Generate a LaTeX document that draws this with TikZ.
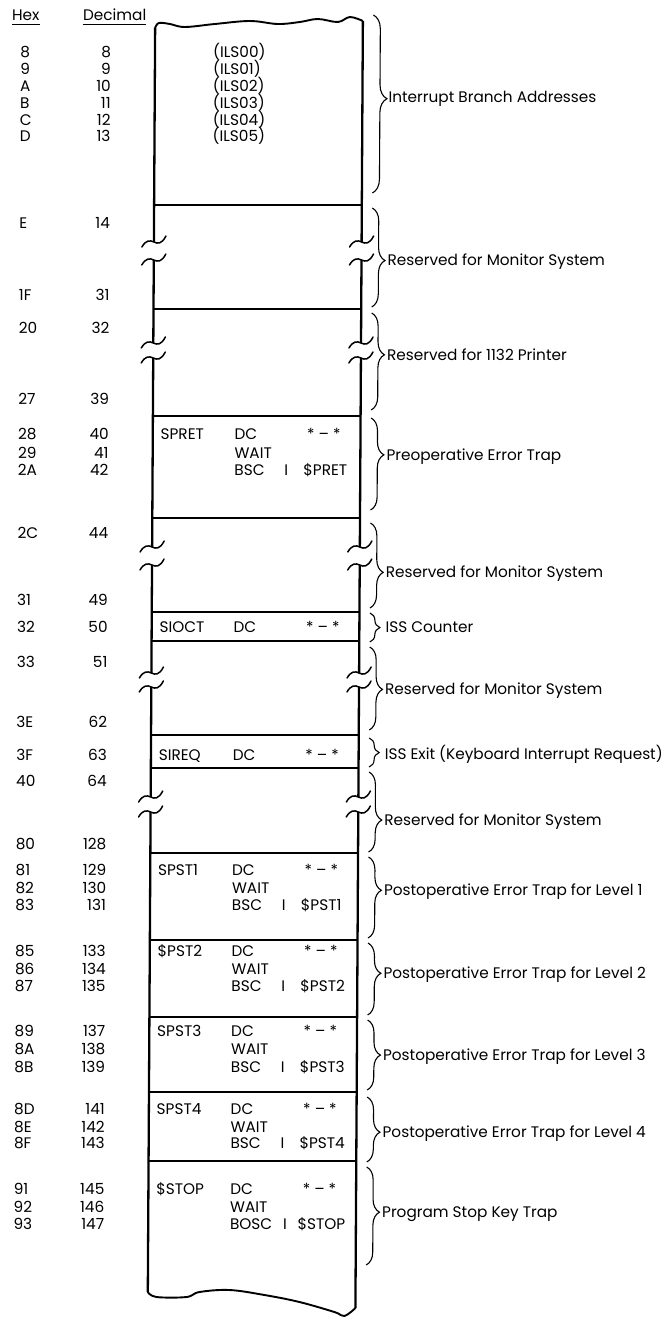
\documentclass[tikz,border=0pt]{standalone}
\usepackage{fontspec}
\setmainfont{Poppins}
\usetikzlibrary{decorations.pathreplacing}
\newcommand\fs{\fontsize{15.3}{17}\selectfont}
\newcommand\mrow[3]{\node[txt] (h#2) at ({20.5},{#1+5}) {#2};\node[rtxt] (d#3) at ({111.5},{#1+5}) {#3};}
\newcommand\ctext[4]{\node[txt] (#1) at ({#2},{#3+5}) {#4};}
\newcommand\brlab[7]{\draw[brc=#4,decoration={aspect=#3}] (373.5,#1) -- (373.5,#2);\node[txt] (#7) at ({389},{#5+5}) {#6};}
\newcommand\tld[2]{\draw[tl] ({#1-12},{#2+5}) .. controls ({#1-8},{#2-2}) and ({#1-4},{#2-2}) .. ({#1},{#2}) .. controls ({#1+4},{#2+2}) and ({#1+8},{#2+2}) .. ({#1+12},{#2-6});}
\begin{document}
\begin{tikzpicture}[x=1pt,y=-1pt,
  txt/.style={inner sep=0pt,anchor=base west,font=\fs},
  rtxt/.style={inner sep=0pt,anchor=base east,font=\fs},
  vline/.style={line width=2.3pt},
  hline/.style={line width=1.9pt,line join=round},
  brc/.style={decorate,decoration={brace,amplitude=#1},line width=1.1pt},
  tl/.style={line width=1.5pt,line cap=round},
  uline/.style={line width=0.9pt}]
\fill[white] (0,0) rectangle (668,1319);
\useasboundingbox (0,0) rectangle (668,1319);
\begin{scope}[xslant=0.0058]
% headers
\node[txt] (hexhead) at (12,21) {Hex};
\node[txt] (dechead) at (83,21) {Decimal};
\draw[uline] ([yshift=-3.5pt]hexhead.base west) -- ([yshift=-3.5pt]hexhead.base east);
\draw[uline] ([yshift=-3.5pt]dechead.base west) -- ([yshift=-3.5pt]dechead.base east);
% address rows
\mrow{53}{8}{8}\mrow{70}{9}{9}\mrow{87}{A}{10}\mrow{104}{B}{11}\mrow{121}{C}{12}\mrow{137}{D}{13}
\mrow{223}{E}{14}\mrow{295}{1F}{31}\mrow{328}{20}{32}\mrow{399}{27}{39}
\mrow{434}{28}{40}\mrow{453}{29}{41}\mrow{470}{2A}{42}
\mrow{533}{2C}{44}\mrow{600}{31}{49}\mrow{627}{32}{50}\mrow{662}{33}{51}
\mrow{722}{3E}{62}\mrow{755}{3F}{63}\mrow{781}{40}{64}\mrow{844}{80}{128}
\mrow{870}{81}{129}\mrow{888}{82}{130}\mrow{905}{83}{131}
\mrow{951}{85}{133}\mrow{969}{86}{134}\mrow{986}{87}{135}
\mrow{1031}{89}{137}\mrow{1049}{8A}{138}\mrow{1067}{8B}{139}
\mrow{1109}{8D}{141}\mrow{1127}{8E}{142}\mrow{1143}{8F}{143}
\mrow{1189}{91}{145}\mrow{1207}{92}{146}\mrow{1224}{93}{147}
% box outline
\draw[hline] plot[smooth,tension=0.6] coordinates {(155.3,28) (159,23) (170,24) (185,27) (215,24) (250,21) (278,24) (300,22) (318,19) (338,22) (350,17) (363,21)};
\draw[hline] plot[smooth,tension=0.6] coordinates {(155.3,1292) (164,1297) (194,1297) (207,1292) (237,1290) (272,1295) (307,1302) (342,1312) (352,1316) (363,1308)};
\foreach \xx/\ya/\yb in {155.3/28/1292, 363/21/1308}{
  \draw[vline] (\xx,\ya) -- (\xx,242);
  \draw[vline] (\xx,260) -- (\xx,343);
  \draw[vline] (\xx,358) -- (\xx,547);
  \draw[vline] (\xx,565) -- (\xx,673);
  \draw[vline] (\xx,687) -- (\xx,797);
  \draw[vline] (\xx,812) -- (\xx,\yb);
}
\foreach \yy in {242,260,343,358,547,565,673,687,797,812}{\tld{155.3}{\yy}\tld{363}{\yy}}
\foreach \yy in {205,309,416,518,612,641,735,768,853,940,1017,1092,1161}{\draw[hline] (155.3,\yy) -- (363,\yy);}
% box contents
\ctext{ils0}{213.3}{53}{(ILS00)}\ctext{ils1}{213.3}{70}{(ILS01)}\ctext{ils2}{213.3}{87}{(ILS02)}
\ctext{ils3}{213.3}{104}{(ILS03)}\ctext{ils4}{213.3}{121}{(ILS04)}\ctext{ils5}{213.3}{137}{(ILS05)}
\ctext{n1}{163}{434}{SPRET}\ctext{o1a}{237}{434}{DC}\ctext{s1}{309.5}{434}{* – *}
\ctext{o1b}{237}{453}{WAIT}\ctext{o1c}{237}{470}{BSC}\ctext{i1}{287}{470}{I}\ctext{p1}{306}{470}{\$PRET}
\ctext{n2}{163}{627}{SIOCT}\ctext{o2}{237}{627}{DC}\ctext{s2}{309.5}{627}{* – *}
\ctext{n3}{163}{755}{SIREQ}\ctext{o3}{237}{755}{DC}\ctext{s3}{309.5}{755}{* – *}
\ctext{n4}{163}{870}{SPST1}\ctext{o4a}{237}{870}{DC}\ctext{s4}{309.5}{870}{* – *}
\ctext{o4b}{237}{888}{WAIT}\ctext{o4c}{237}{905}{BSC}\ctext{i4}{287}{905}{I}\ctext{p4}{306}{905}{\$PST1}
\ctext{n5}{163}{951}{\$PST2}\ctext{o5a}{237}{951}{DC}\ctext{s5}{309.5}{951}{* – *}
\ctext{o5b}{237}{969}{WAIT}\ctext{o5c}{237}{986}{BSC}\ctext{i5}{287}{986}{I}\ctext{p5}{306}{986}{\$PST2}
\ctext{n6}{163}{1031}{SPST3}\ctext{o6a}{237}{1031}{DC}\ctext{s6}{309.5}{1031}{* – *}
\ctext{o6b}{237}{1049}{WAIT}\ctext{o6c}{237}{1067}{BSC}\ctext{i6}{287}{1067}{I}\ctext{p6}{306}{1067}{\$PST3}
\ctext{n7}{163}{1109}{SPST4}\ctext{o7a}{237}{1109}{DC}\ctext{s7}{309.5}{1109}{* – *}
\ctext{o7b}{237}{1127}{WAIT}\ctext{o7c}{237}{1143}{BSC}\ctext{i7}{287}{1143}{I}\ctext{p7}{306}{1143}{\$PST4}
\ctext{n8}{163}{1189}{\$STOP}\ctext{o8a}{237}{1189}{DC}\ctext{s8}{309.5}{1189}{* – *}
\ctext{o8b}{237}{1207}{WAIT}\ctext{o8c}{237}{1224}{BOSC}\ctext{i8}{290}{1224}{I}\ctext{p8}{304.5}{1224}{\$STOP}
% braces and labels
\brlab{15}{193}{0.47}{14}{98}{Interrupt Branch Addresses}{lb1}
\brlab{208}{307}{0.53}{13}{260}{Reserved for Monitor System}{lb2}
\brlab{313}{410}{0.43}{13}{355}{Reserved for 1132 Printer}{lb3}
\brlab{418}{510}{0.40}{13}{455}{Preoperative Error Trap}{lb4}
\brlab{523}{608}{0.58}{13}{572}{Reserved for Monitor System}{lb5}
\brlab{613}{642}{0.5}{10}{627}{ISS Counter}{lb6}
\brlab{647}{730}{0.51}{13}{689}{Reserved for Monitor System}{lb7}
\brlab{738}{767}{0.5}{10}{754}{ISS Exit (Keyboard Interrupt Request)}{lb8}
\brlab{772}{852}{0.6}{13}{820}{Reserved for Monitor System}{lb9}
\brlab{857}{938}{0.41}{13}{890}{Postoperative Error Trap for Level 1}{lb10}
\brlab{943}{1015}{0.42}{13}{973}{Postoperative Error Trap for Level 2}{lb11}
\brlab{1020}{1090}{0.5}{13}{1055}{Postoperative Error Trap for Level 3}{lb12}
\brlab{1097}{1162}{0.54}{13}{1132}{Postoperative Error Trap for Level 4}{lb13}
\brlab{1167}{1265}{0.46}{13}{1212}{Program Stop Key Trap}{lb14}
\end{scope}
\end{tikzpicture}
\end{document}
